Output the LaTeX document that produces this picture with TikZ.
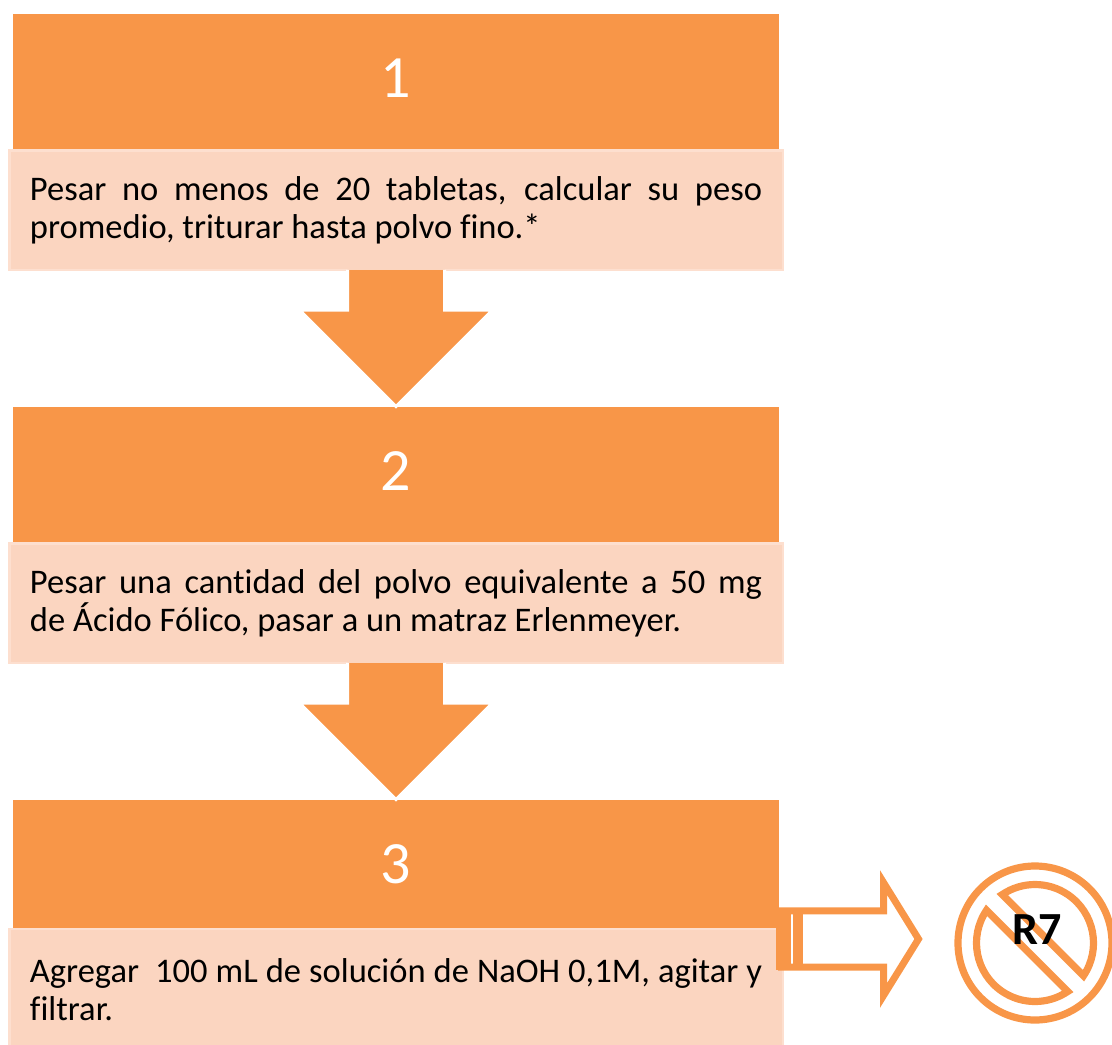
\documentclass[tikz,border=0pt]{standalone}
\usepackage{fontspec}
\setmainfont{Carlito}[RawFeature={-liga,-clig,-dlig}]
\definecolor{orangeA}{HTML}{F89648}
\definecolor{paleA}{HTML}{FBD5C0}
\definecolor{paleB}{HTML}{FDDFCF}
\tikzset{
  headbox/.style={fill=orangeA,minimum width=766pt,minimum height=135pt,inner sep=0pt,outer sep=0pt,
    font=\fontsize{60}{64}\selectfont,text=white},
  bodybox/.style={fill=paleA,draw=paleB,line width=2.5pt,minimum width=773.5pt,minimum height=119.5pt,inner sep=0pt,outer sep=0pt},
  bodytext/.style={anchor=base west,inner sep=0pt,outer sep=0pt,font=\fontsize{34.5}{38}\selectfont,text=black},
  blockarrow/.style={fill=orangeA,draw=white,line width=3pt,miter limit=10},
  hollowarrow/.style={draw=orangeA,line width=7pt,miter limit=20,line join=miter},
  ringline/.style={draw=orangeA,line width=7.2pt,miter limit=10},
}
\newcommand{\stepbody}[1]{\parbox[t]{732pt}{#1}}
\newcommand{\blockdown}[1]{\path[blockarrow] ([xshift=-48.5pt]#1.south) -- ++(0,40.45) -- ++(-47.9,0) -- ++(96.4,96.4) -- ++(96.4,-96.4) -- ++(-47.9,0) -- ++(0,-40.45);}
\begin{document}
\begin{tikzpicture}[x=1pt,y=-1pt]
\useasboundingbox (0,0) rectangle (1112,1045);
\clip (0,0) rectangle (1112,1045);
\node[headbox] (head1) at (396,81.5) {\raisebox{7pt}{1}};
\node[headbox] (head2) at (396,474.5) {\raisebox{7pt}{2}};
\node[headbox,minimum height=128pt] (head3) at (396,864) {3};
\node[bodybox] (body1) at (396,210) {};
\node[bodybox] (body2) at (396,603) {};
\node[bodybox,minimum height=124pt] (body3) at (396,991) {};
\node[bodytext] (text1) at (30,200) {\stepbody{Pesar no menos de 20 tabletas, calcular su peso\linebreak promedio, triturar hasta polvo fino.*}};
\node[bodytext] (text2) at (30,593) {\stepbody{Pesar una cantidad del polvo equivalente a 50 mg\linebreak de Ácido Fólico, pasar a un matraz Erlenmeyer.}};
\node[bodytext] (text3) at (30,982) {\stepbody{Agregar\ \ 100 mL de solución de NaOH 0,1M, agitar y\linebreak filtrar.}};
\blockdown{body1}
\blockdown{body2}
% hollow arrow
\coordinate (ha) at (778,939);
\path[hollowarrow] ([yshift=28.2pt]ha) -- (883.5,910.8) -- (883.5,882.5) -- (918.5,939) -- (883.5,995.5) -- (883.5,967) -- ([yshift=-28pt]ha);
\fill[orangeA] (776,907.5) rectangle (791,970.2);
\fill[orangeA] (793,907.5) rectangle (803,970.2);
\fill[orangeA] (791,907.5) rectangle (793,914);
\fill[orangeA] (791,964) rectangle (793,970.2);
% prohibition sign
\coordinate (sign) at (1035,943);
\draw[ringline] (sign) circle[radius=77pt];
\draw[ringline] ([shift={(-34:58.5pt)}]sign) arc[start angle=-34,end angle=124,radius=58.5pt] -- cycle;
\draw[ringline] ([shift={(146:58.5pt)}]sign) arc[start angle=146,end angle=304,radius=58.5pt] -- cycle;
\node[anchor=base,inner sep=0pt,font=\fontsize{46}{50}\selectfont\bfseries] (r7) at (1037.5,944) {R7};
\end{tikzpicture}
\end{document}
